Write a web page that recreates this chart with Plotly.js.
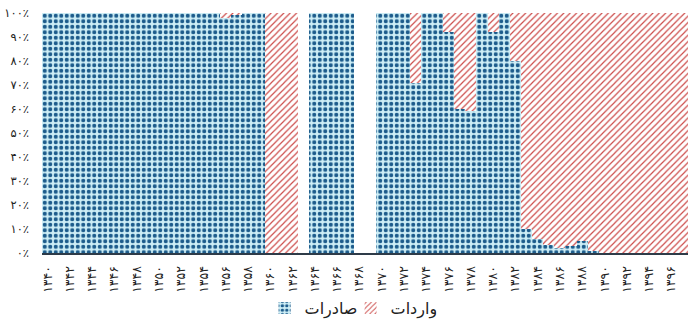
<!DOCTYPE html>
<html>
<head>
<meta charset="utf-8">
<script src="https://cdn.plot.ly/plotly-3.0.1.min.js"></script>
<style>
  html, body { margin: 0; padding: 0; background: #ffffff; }
  #chart { width: 700px; height: 326px; }
</style>
</head>
<body>
<div id="chart"></div>
<script>
// Years (solar hijri), one bar per year
const years = [
  1340, 1341, 1342, 1343, 1344, 1345, 1346, 1347, 1348, 1349,
  1350, 1351, 1352, 1353, 1354, 1355, 1356, 1357, 1358, 1359,
  1360, 1361, 1362, 1363, 1364, 1365, 1366, 1367, 1368, 1369,
  1370, 1371, 1372, 1373, 1374, 1375, 1376, 1377, 1378, 1379,
  1380, 1381, 1382, 1383, 1384, 1385, 1386, 1387, 1388, 1389,
  1390, 1391, 1392, 1393, 1394, 1395, 1396, 1397
];

// Share of exports (%) per year; null = no data
const exportsShare = [
  100, 100, 100, 100, 100, 100, 100, 100, 100, 100,
  100, 100, 100, 100, 100, 100, 98, 99, 100, 100,
  0, 0, 0, null, 100, 100, 100, 100, null, null,
  100, 100, 100, 71, 100, 100, 92, 60, 59, 100,
  92, 100, 80, 10, 6, 3.5, 2, 3, 5, 1,
  0, 0, 0, 0, 0, 0, 0, 0
];

// Share of imports (%) per year; null = no data
const importsShare = [
  0, 0, 0, 0, 0, 0, 0, 0, 0, 0,
  0, 0, 0, 0, 0, 0, 2, 1, 0, 0,
  100, 100, 100, null, 0, 0, 0, 0, null, null,
  0, 0, 0, 29, 0, 0, 8, 40, 41, 0,
  8, 0, 20, 90, 94, 96.5, 98, 97, 95, 99,
  100, 100, 100, 100, 100, 100, 100, 100
];

// Axis labels in Persian digits
const xTickVals = [1340, 1342, 1344, 1346, 1348, 1350, 1352, 1354, 1356, 1358,
                   1360, 1362, 1364, 1366, 1368, 1370, 1372, 1374, 1376, 1378,
                   1380, 1382, 1384, 1386, 1388, 1390, 1392, 1394, 1396];
const xTickText = ['۱۳۴۰', '۱۳۴۲', '۱۳۴۴', '۱۳۴۶', '۱۳۴۸', '۱۳۵۰', '۱۳۵۲', '۱۳۵۴', '۱۳۵۶', '۱۳۵۸',
                   '۱۳۶۰', '۱۳۶۲', '۱۳۶۴', '۱۳۶۶', '۱۳۶۸', '۱۳۷۰', '۱۳۷۲', '۱۳۷۴', '۱۳۷۶', '۱۳۷۸',
                   '۱۳۸۰', '۱۳۸۲', '۱۳۸۴', '۱۳۸۶', '۱۳۸۸', '۱۳۹۰', '۱۳۹۲', '۱۳۹۴', '۱۳۹۶'];
const yTickVals = [0, 10, 20, 30, 40, 50, 60, 70, 80, 90, 100];
const yTickText = ['۰٪', '۱۰٪', '۲۰٪', '۳۰٪', '۴۰٪', '۵۰٪', '۶۰٪', '۷۰٪', '۸۰٪', '۹۰٪', '۱۰۰٪'];

const seriesNames = ['صادرات', 'واردات'];

const traces = [
  {
    type: 'bar',
    name: seriesNames[0],
    x: years,
    y: exportsShare,
    width: 1,
    marker: {
      color: '#1d5c8c',
      line: { width: 0 },
      pattern: {
        shape: '.',
        bgcolor: '#cdeef6',
        fgcolor: '#1d5c8c',
        size: 5.5,
        solidity: 0.44
      }
    },
    legendrank: 1,
    hoverinfo: 'x+y'
  },
  {
    type: 'bar',
    name: seriesNames[1],
    x: years,
    y: importsShare,
    width: 1,
    marker: {
      color: '#cc4a48',
      line: { width: 0 },
      pattern: {
        shape: '/',
        bgcolor: '#ffffff',
        fgcolor: '#cc4a48',
        size: 4.5,
        solidity: 0.26
      }
    },
    legendrank: 2,
    hoverinfo: 'x+y'
  }
];

const layout = {
  width: 700,
  height: 326,
  margin: { l: 42, r: 12, t: 13, b: 73, autoexpand: false },
  paper_bgcolor: '#ffffff',
  plot_bgcolor: '#ffffff',
  barmode: 'stack',
  bargap: 0,
  font: { family: 'DejaVu Sans, sans-serif', size: 12, color: '#222222' },
  showlegend: true,
  legend: {
    orientation: 'h',
    xref: 'container',
    yref: 'container',
    x: 0.378,
    xanchor: 'left',
    y: 0.055,
    yanchor: 'middle',
    font: { family: 'DejaVu Sans, sans-serif', size: 16, color: '#222222' },
    itemwidth: 30,
    entrywidth: 41,
    entrywidthmode: 'pixels',
    traceorder: 'normal'
  },
  xaxis: {
    type: 'linear',
    range: [1339.5, 1397.5],
    automargin: false,
    tickmode: 'array',
    tickvals: xTickVals,
    ticktext: xTickText,
    tickangle: -90,
    ticks: '',
    ticklabelstandoff: 6,
    showgrid: false,
    zeroline: false,
    showline: true,
    linecolor: '#2e3b48',
    linewidth: 2,
    tickfont: { size: 12.5, color: '#222222' },
    fixedrange: true
  },
  yaxis: {
    range: [0, 100],
    automargin: false,
    tickmode: 'array',
    tickvals: yTickVals,
    ticktext: yTickText,
    ticks: '',
    ticklabelstandoff: 12,
    showgrid: false,
    zeroline: false,
    showline: false,
    tickfont: { size: 11.5, color: '#222222' },
    fixedrange: true
  }
};

Plotly.newPlot('chart', traces, layout, { displayModeBar: false, staticPlot: true });
</script>
</body>
</html>
